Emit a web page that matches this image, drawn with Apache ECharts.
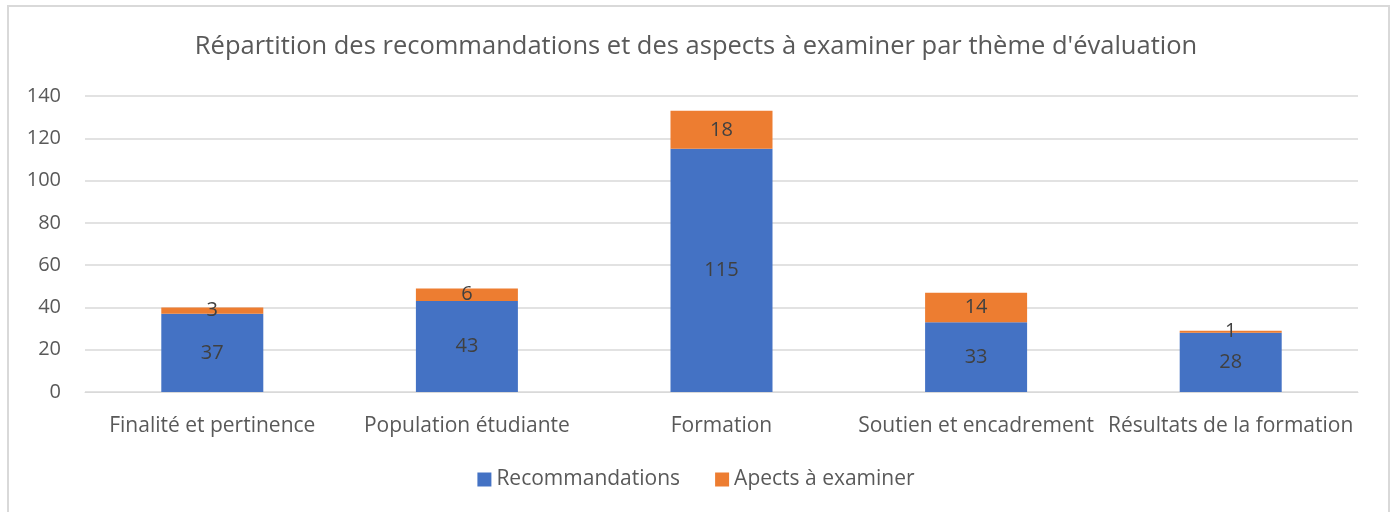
<!DOCTYPE html>
<html>
<head>
<meta charset="utf-8">
<script src="https://cdn.jsdelivr.net/npm/echarts@6/dist/echarts.min.js"></script>
<style>
  html, body { margin: 0; padding: 0; background: #fff; }
  #frame { position: absolute; left: 7px; top: 5px; width: 1379px; height: 520px; border: 2px solid #d9d9d9; }
  #chart { position: absolute; left: 0; top: 0; width: 1392px; height: 512px; }
</style>
</head>
<body>
<div id="frame"></div>
<div id="chart"></div>
<script>
// thèmes d'évaluation
var categories = ['Finalité et pertinence', 'Population étudiante', 'Formation', 'Soutien et encadrement', 'Résultats de la formation'];
var recommandations = [37, 43, 115, 33, 28];
var aspects = [3, 6, 18, 14, 1];
var yTicks = [0, 140, 20]; // min, max, pas

var myChart = echarts.init(document.getElementById('chart'));
var font = '"Open Sans", "Noto Sans", sans-serif';

var option = {
    backgroundColor: 'transparent',
    title: {
        text: "Répartition des recommandations et des aspects à examiner par thème d'évaluation",
        left: 'center',
        top: 29,
        textStyle: { fontFamily: font, fontSize: 25.5, fontWeight: 'normal', color: '#595959' }
    },
    legend: {
        bottom: 17,
        left: 'center',
        itemWidth: 14,
        itemHeight: 14,
        itemGap: 35,
        icon: 'rect',
        textStyle: { fontFamily: font, fontSize: 21, color: '#595959' },
        data: ['Recommandations', 'Apects à examiner']
    },
    grid: { left: 85, right: 34, top: 96, bottom: 120 },
    xAxis: {
        type: 'category',
        data: categories,
        axisLine: { lineStyle: { color: '#d9d9d9' } },
        axisTick: { show: false },
        axisLabel: { interval: 0, fontFamily: font, fontSize: 21, color: '#595959', margin: 24 }
    },
    yAxis: {
        type: 'value',
        min: yTicks[0],
        max: yTicks[1],
        interval: yTicks[2],
        axisLine: { show: false },
        axisTick: { show: false },
        splitLine: { lineStyle: { color: '#d9d9d9', width: 1.5 } },
        axisLabel: { fontFamily: font, fontSize: 20, color: '#595959', margin: 24 }
    },
    series: [
        {
            name: 'Recommandations',
            type: 'bar',
            stack: 'total',
            barWidth: 102,
            data: recommandations,
            itemStyle: { color: '#4472C4' },
            label: { show: true, position: 'inside', fontFamily: font, fontSize: 20, color: '#404040' }
        },
        {
            name: 'Apects à examiner',
            type: 'bar',
            stack: 'total',
            barWidth: 102,
            data: aspects,
            itemStyle: { color: '#ED7D31' },
            label: { show: true, position: 'inside', fontFamily: font, fontSize: 20, color: '#404040' }
        }
    ]
};

myChart.setOption(option);
</script>
</body>
</html>
